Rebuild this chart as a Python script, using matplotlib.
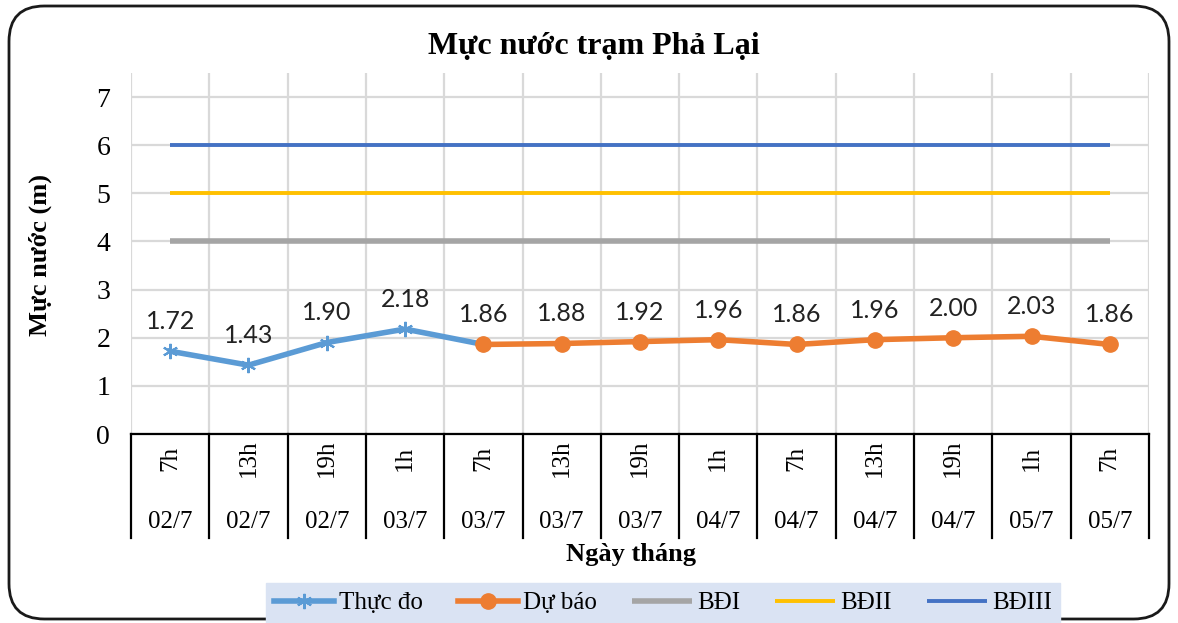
import matplotlib.pyplot as plt
from matplotlib.patches import FancyBboxPatch
from matplotlib.lines import Line2D

# data
hours = ['7h', '13h', '19h', '1h', '7h', '13h', '19h', '1h', '7h', '13h', '19h', '1h', '7h']
dates = ['02/7', '02/7', '02/7', '03/7', '03/7', '03/7', '03/7', '04/7', '04/7', '04/7', '04/7', '05/7', '05/7']
thuc_do = [1.72, 1.43, 1.90, 2.18, 1.86]
du_bao = [1.86, 1.88, 1.92, 1.96, 1.86, 1.96, 2.00, 2.03, 1.86]
bd1 = [4] * 13
bd2 = [5] * 13
bd3 = [6] * 13

n = len(hours)
x = list(range(n))
x_td = x[:len(thuc_do)]
x_db = x[n - len(du_bao):]

serif = 'Liberation Serif'
plt.rcParams['font.family'] = serif

fig = plt.figure(figsize=(11.78, 6.23), dpi=100)
ax = fig.add_axes([131 / 1178, 1 - 434 / 623, (1149 - 131) / 1178, (434 - 73) / 623])

ax.plot(x, bd1, color='#A5A5A5', lw=4, solid_capstyle='butt', label='BĐI', zorder=2)
ax.plot(x, bd2, color='#FFC000', lw=2.8, solid_capstyle='butt', label='BĐII', zorder=2)
ax.plot(x, bd3, color='#4472C4', lw=2.8, solid_capstyle='butt', label='BĐIII', zorder=2)
ax.plot(x_td, thuc_do, color='#5B9BD5', lw=4, marker=(6, 2, 0), ms=11, mew=1.5,
        label='Thực đo', zorder=3)
ax.plot(x_db, du_bao, color='#ED7D31', lw=4, marker='o', ms=11,
        label='Dự báo', zorder=4)

# data labels, one per category
lab_vals = thuc_do[:n - len(du_bao)] + du_bao
for xi, v in zip(x, lab_vals):
    ax.annotate(f'{v:.2f}', (xi, v), xytext=(0, 13), textcoords='offset points',
                ha='center', va='bottom', fontsize=18, family='Lato', color='#222222')

ax.set_xlim(-0.5, n - 0.5)
ax.set_ylim(0, 7.5)
ax.set_yticks(range(8))
ax.tick_params(axis='y', length=0, labelsize=20, pad=15)
ax.set_xticks([i - 0.5 for i in range(n + 1)])
ax.set_xticklabels([])
ax.tick_params(axis='x', length=0)
ax.grid(True, color='#D9D9D9', lw=1.6)
ax.set_axisbelow(True)
for s in ['left', 'right', 'top']:
    ax.spines[s].set_visible(False)
ax.spines['bottom'].set_color('black')
ax.spines['bottom'].set_linewidth(1.6)
ax.spines['bottom'].set_zorder(5)

# category table below axis
trans = ax.get_xaxis_transform()
tbl_h = (538 - 434) / (434 - 73)
for i in range(n + 1):
    ax.add_line(Line2D([i - 0.5, i - 0.5], [0, -tbl_h], transform=trans, color='black',
                       lw=1.6, clip_on=False))
for xi, h, d in zip(x, hours, dates):
    ax.text(xi, -(458 - 434) / 361, h, transform=trans, rotation=90, ha='center',
            va='center', fontsize=18)
    ax.text(xi, -(522 - 434) / 361, d, transform=trans, ha='center', va='center',
            fontsize=18)

fig.text(594 / 1178, 1 - 47 / 623, 'Mực nước trạm Phả Lại', ha='center', va='center',
         fontsize=23, fontweight='bold')
fig.text(40 / 1178, 1 - 255 / 623, 'Mực nước (m)', rotation=90, ha='center',
         va='center', fontsize=19, fontweight='bold')
fig.text(631 / 1178, 1 - 555 / 623, 'Ngày tháng', ha='center', va='center',
         fontsize=19, fontweight='bold')

handles, labels = ax.get_legend_handles_labels()
order = [3, 4, 0, 1, 2]
leg = fig.legend([handles[i] for i in order], [labels[i] for i in order],
                 loc='center', bbox_to_anchor=(663 / 1178, 1 - 603 / 623), ncol=5,
                 fontsize=18, frameon=True, fancybox=False, handlelength=2.4,
                 columnspacing=1.4, handletextpad=0.2, borderpad=0.35)
leg.get_frame().set_facecolor('#DAE3F3')
leg.get_frame().set_edgecolor('#DAE3F3')
leg.get_frame().set_alpha(1)
leg.set_zorder(10)

frame = FancyBboxPatch((9 / 1178, 4 / 623), 1160 / 1178, 613 / 623,
                       boxstyle='round,pad=0,rounding_size=0.03', transform=fig.transFigure,
                       fill=False, edgecolor='#1a1a1a', lw=2, mutation_aspect=1178 / 623)
fig.patches.append(frame)

fig.savefig('out.png', dpi=100)
